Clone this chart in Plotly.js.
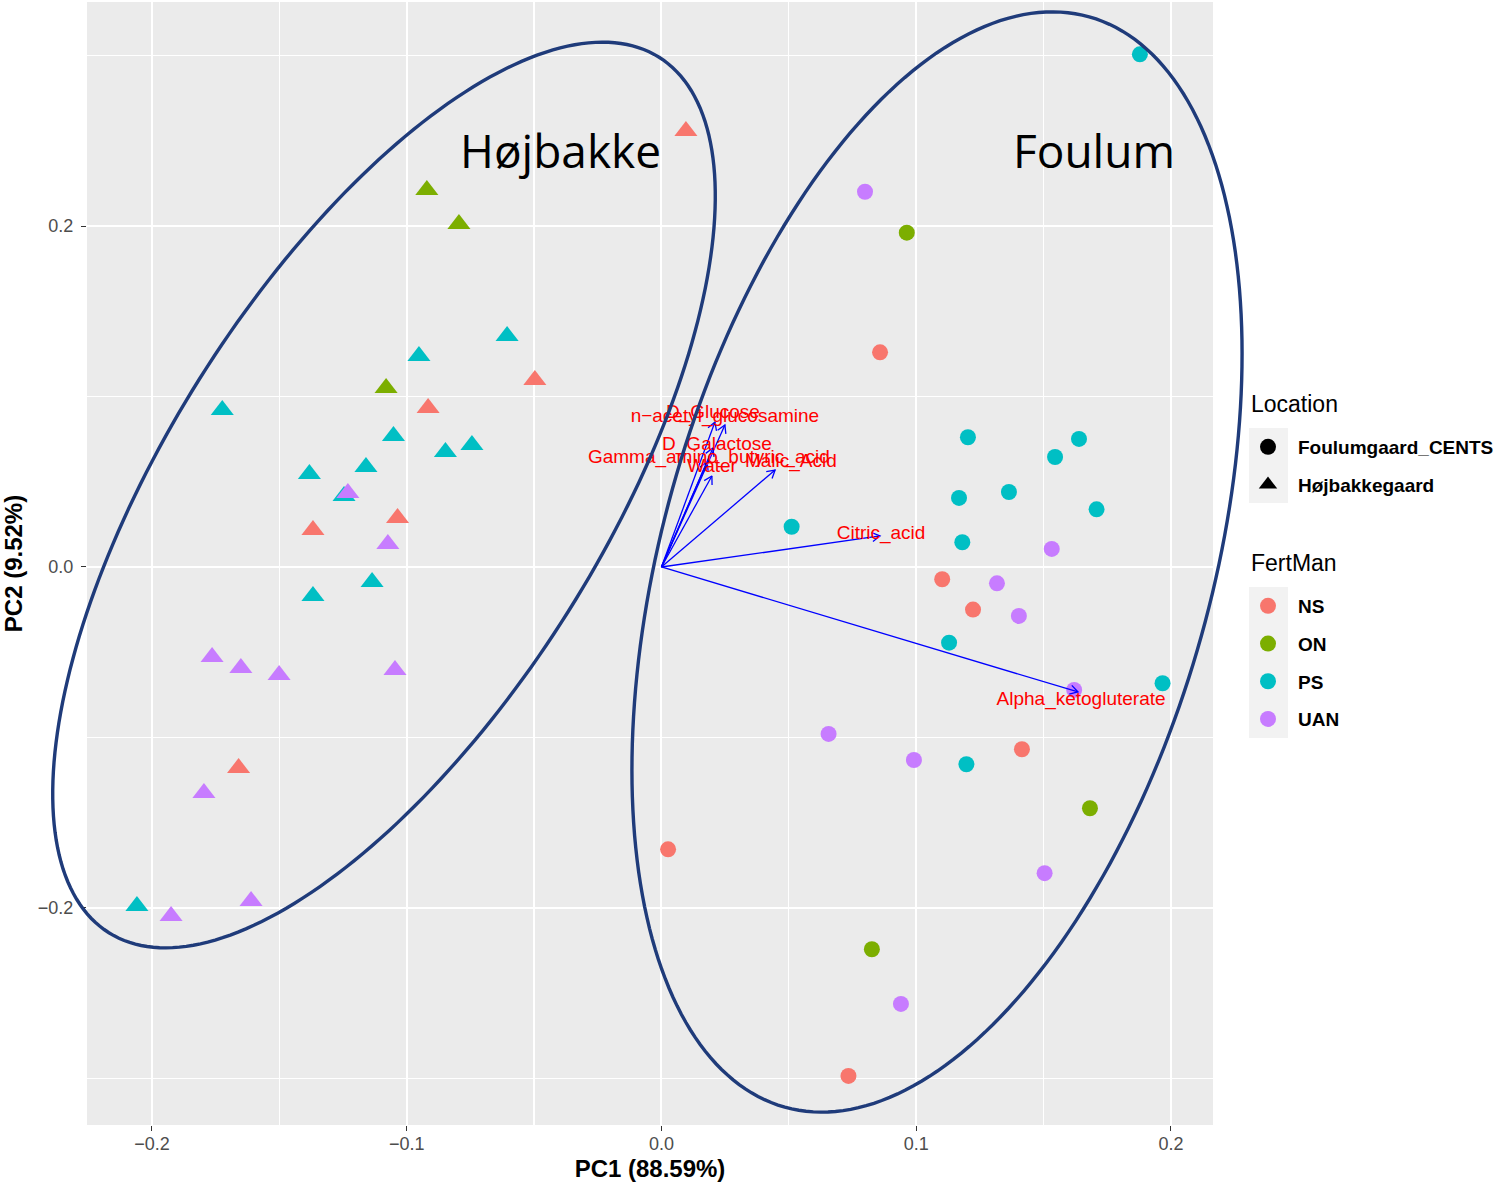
<!DOCTYPE html>
<html>
<head>
<meta charset="utf-8">
<script src="https://cdn.plot.ly/plotly-3.0.1.min.js"></script>
<style>
  html, body { margin: 0; padding: 0; background: #ffffff; }
  #chart { width: 1499px; height: 1182px; }
</style>
</head>
<body>
<div id="chart"></div>
<script>
// ---- PCA scores (PC1, PC2) by site and fertiliser management ----
const fertMan = ['NS', 'ON', 'PS', 'UAN'];
const fertColors = ['#F8766D', '#7CAE00', '#00BFC4', '#C77CFF'];
const locations = ['Foulumgaard_CENTS', 'Højbakkegaard'];

// Foulumgaard_CENTS
const foulumNS_pc1  = [0.0858, 0.1102, 0.1223, 0.1415, 0.0026, 0.0734];
const foulumNS_pc2  = [0.1259, -0.0072, -0.0250, -0.1069, -0.1656, -0.2985];
const foulumON_pc1  = [0.0963, 0.1682, 0.0826];
const foulumON_pc2  = [0.1961, -0.1415, -0.2242];
const foulumPS_pc1  = [0.1878, 0.1203, 0.1639, 0.1545, 0.1364, 0.1168, 0.1708, 0.1181, 0.0511, 0.1129, 0.1967, 0.1197];
const foulumPS_pc2  = [0.3007, 0.0761, 0.0751, 0.0645, 0.0440, 0.0405, 0.0338, 0.0145, 0.0236, -0.0444, -0.0682, -0.1157];
const foulumUAN_pc1 = [0.0799, 0.1532, 0.1317, 0.1403, 0.1620, 0.0656, 0.0991, 0.1504, 0.0940];
const foulumUAN_pc2 = [0.2201, 0.0106, -0.0096, -0.0287, -0.0721, -0.0979, -0.1132, -0.1796, -0.2563];

// Højbakkegaard
const hojNS_pc1  = [0.0096, -0.0497, -0.0916, -0.1368, -0.1036, -0.1660];
const hojNS_pc2  = [0.2557, 0.1097, 0.0933, 0.0217, 0.0287, -0.1179];
const hojON_pc1  = [-0.0921, -0.0795, -0.1081];
const hojON_pc2  = [0.2211, 0.2012, 0.1050];
const hojPS_pc1  = [-0.0606, -0.0952, -0.1724, -0.1052, -0.0848, -0.0744, -0.1382, -0.1160, -0.1246, -0.1368, -0.1136, -0.2059];
const hojPS_pc2  = [0.1355, 0.1238, 0.0921, 0.0768, 0.0674, 0.0716, 0.0545, 0.0586, 0.0416, -0.0170, -0.0088, -0.1988];
const hojUAN_pc1 = [-0.1231, -0.1074, -0.1764, -0.1651, -0.1501, -0.1046, -0.1796, -0.1925, -0.1611];
const hojUAN_pc2 = [0.0434, 0.0135, -0.0528, -0.0592, -0.0633, -0.0604, -0.1326, -0.2047, -0.1959];

// ---- Substrate loadings (arrow tips) and their label positions ----
const loadingNames = ['n\u2212acetyl_glucosamine', 'D_Glucose', 'D_Galactose', 'Gamma_amino_butyric_acid',
                      'Water', 'Malic_Acid', 'Citric_acid', 'Alpha_ketogluterate'];
const loadingPC1 = [0.0249, 0.0210, 0.0202, 0.0179, 0.0198, 0.0446, 0.0858, 0.1635];
const loadingPC2 = [0.0833, 0.0850, 0.0698, 0.0616, 0.0534, 0.0569, 0.0182, -0.0733];
const labelPC1   = [0.0249, 0.0202, 0.0218, 0.0186, 0.0198, 0.0508, 0.0862, 0.1647];
const labelPC2   = [0.0880, 0.0903, 0.0716, 0.0639, 0.0587, 0.0616, 0.0194, -0.0780];

// ---- Axis labels ----
const xTitle = 'PC1 (88.59%)';
const yTitle = 'PC2 (9.52%)';
const siteNames = ['Højbakke', 'Foulum'];
const legendTitles = ['Location', 'FertMan'];

// ---- Figure geometry ----
const FIG_W = 1499, FIG_H = 1182;
const M = { l: 87, r: 286, t: 2, b: 57 };
const PW = FIG_W - M.l - M.r, PH = FIG_H - M.t - M.b;
const X_RANGE = [-0.2255, 0.2165];
const Y_RANGE = [-0.3273, 0.3314];
const px2paperX = px => (px - M.l) / PW;
const py2paperY = py => (FIG_H - M.b - py) / PH;
const KX = PW / (X_RANGE[1] - X_RANGE[0]);   // px per PC1 unit
const KY = PH / (Y_RANGE[1] - Y_RANGE[0]);   // px per PC2 unit

const FONT = 'Liberation Sans, Arial, sans-serif';

const scoreSets = {
  'Foulumgaard_CENTS': {
    NS: [foulumNS_pc1, foulumNS_pc2], ON: [foulumON_pc1, foulumON_pc2],
    PS: [foulumPS_pc1, foulumPS_pc2], UAN: [foulumUAN_pc1, foulumUAN_pc2]
  },
  'Højbakkegaard': {
    NS: [hojNS_pc1, hojNS_pc2], ON: [hojON_pc1, hojON_pc2],
    PS: [hojPS_pc1, hojPS_pc2], UAN: [hojUAN_pc1, hojUAN_pc2]
  }
};
const symbolFor = { 'Foulumgaard_CENTS': 'circle', 'Højbakkegaard': 'triangle-up' };
const sizeFor = { 'Foulumgaard_CENTS': 16, 'Højbakkegaard': 20 };

const traces = [];
locations.forEach(loc => {
  fertMan.forEach((fm, i) => {
    const [xs, ys] = scoreSets[loc][fm];
    traces.push({
      type: 'scatter', mode: 'markers', x: xs, y: ys,
      name: loc + ' ' + fm, showlegend: false, hoverinfo: 'x+y+name',
      marker: { symbol: symbolFor[loc], size: sizeFor[loc], color: fertColors[i], line: { width: 0 } }
    });
  });
});

// loading arrows: shaft from the origin plus an open head (30 deg, 9 px)
const arrowX = [], arrowY = [];
const HEAD_LEN = 9, HEAD_ANG = 30 * Math.PI / 180;
loadingPC1.forEach((lx, i) => {
  const ly = loadingPC2[i];
  arrowX.push(0, lx, null);
  arrowY.push(0, ly, null);
  const dx = lx * KX, dy = ly * KY;
  const len = Math.hypot(dx, dy);
  const ux = -dx / len, uy = -dy / len;
  [-HEAD_ANG, HEAD_ANG].forEach((a, k) => {
    const wx = HEAD_LEN * (ux * Math.cos(a) - uy * Math.sin(a));
    const wy = HEAD_LEN * (ux * Math.sin(a) + uy * Math.cos(a));
    if (k === 0) { arrowX.push(lx + wx / KX, lx); arrowY.push(ly + wy / KY, ly); }
    else { arrowX.push(lx + wx / KX, null); arrowY.push(ly + wy / KY, null); }
  });
});
traces.push({
  type: 'scatter', mode: 'lines', x: arrowX, y: arrowY, connectgaps: false,
  line: { color: '#0000FF', width: 1.3 }, showlegend: false, hoverinfo: 'skip'
});

// loading labels
traces.push({
  type: 'scatter', mode: 'text', x: labelPC1, y: labelPC2, text: loadingNames,
  textposition: 'middle center', showlegend: false, hoverinfo: 'text', cliponaxis: false,
  textfont: { family: FONT, size: 19, color: '#FF0000' }
});

// legend entries: Location (shape) and FertMan (colour)
locations.forEach(loc => {
  traces.push({
    type: 'scatter', mode: 'markers', x: [null], y: [null], name: loc,
    legend: 'legend', legendgroup: 'loc_' + loc, showlegend: true, hoverinfo: 'skip',
    marker: { symbol: symbolFor[loc], size: 16, color: '#000000' }
  });
});
fertMan.forEach((fm, i) => {
  traces.push({
    type: 'scatter', mode: 'markers', x: [null], y: [null], name: fm,
    legend: 'legend2', legendgroup: 'fm_' + fm, showlegend: true, hoverinfo: 'skip',
    marker: { symbol: 'circle', size: 16, color: fertColors[i] }
  });
});

const annotations = [];

// site names
const siteLabelPos = [[560, 150], [1094, 150]];
siteNames.forEach((s, i) => {
  annotations.push({
    text: s, xref: 'paper', yref: 'paper',
    x: px2paperX(siteLabelPos[i][0]), y: py2paperY(siteLabelPos[i][1]),
    xanchor: 'center', yanchor: 'middle', showarrow: false,
    font: { family: 'Open Sans, Noto Sans, sans-serif', size: 46, color: '#000000' }
  });
});

// legend titles
const legendTitlePos = [[1249, 404], [1249, 563]];
legendTitles.forEach((t, i) => {
  annotations.push({
    text: t, xref: 'paper', yref: 'paper',
    x: px2paperX(legendTitlePos[i][0]), y: py2paperY(legendTitlePos[i][1]),
    xanchor: 'left', yanchor: 'middle', showarrow: false,
    font: { family: FONT, size: 23, color: '#000000' }
  });
});

// rotated ellipses outlining the two sites (pixel geometry -> paper coords)
function ellipsePath(cx, cy, a, b, deg) {
  const th = deg * Math.PI / 180;
  let d = '';
  for (let k = 0; k <= 240; k++) {
    const t = k / 240 * 2 * Math.PI;
    const px = cx + a * Math.cos(th) * Math.cos(t) - b * Math.sin(th) * Math.sin(t);
    const py = cy - (a * Math.sin(th) * Math.cos(t) + b * Math.cos(th) * Math.sin(t));
    d += (k ? 'L' : 'M') + px2paperX(px).toFixed(5) + ',' + py2paperY(py).toFixed(5);
  }
  return d + 'Z';
}
const ellipseGeom = [
  { cx: 384, cy: 495, a: 517, b: 218, deg: 57.85 },
  { cx: 937, cy: 562, a: 566, b: 274.5, deg: 74.4 }
];
const shapes = ellipseGeom.map(e => ({
  type: 'path', xref: 'paper', yref: 'paper', layer: 'above',
  path: ellipsePath(e.cx, e.cy, e.a, e.b, e.deg),
  line: { color: '#1F3B7A', width: 3.4 }, fillcolor: 'rgba(0,0,0,0)'
}));

// grey key backgrounds behind legend symbols
const keyBoxes = [[1249, 428, 1288, 503], [1249, 587, 1288, 738]];
keyBoxes.forEach(bx => {
  shapes.push({
    type: 'rect', xref: 'paper', yref: 'paper', layer: 'below',
    x0: px2paperX(bx[0]), x1: px2paperX(bx[2]), y0: py2paperY(bx[3]), y1: py2paperY(bx[1]),
    fillcolor: '#F2F2F2', line: { width: 0 }
  });
});

const axisCommon = {
  showline: false, zeroline: false, showgrid: true,
  gridcolor: '#FFFFFF', gridwidth: 2,
  ticks: 'outside', ticklen: 5, tickwidth: 1, tickcolor: '#333333',
  tickfont: { family: FONT, size: 18, color: '#4D4D4D' },
  tickformat: '.1f', tick0: 0
};

const legendCommon = {
  xanchor: 'left', yanchor: 'top', bgcolor: 'rgba(0,0,0,0)',
  itemwidth: 50, tracegroupgap: 10, traceorder: 'grouped',
  font: { family: FONT, size: 19, color: '#000000', weight: 'bold' },
  itemclick: false, itemdoubleclick: false
};

const layout = {
  width: FIG_W, height: FIG_H,
  margin: Object.assign({ autoexpand: false }, M),
  paper_bgcolor: '#FFFFFF', plot_bgcolor: '#EBEBEB',
  font: { family: FONT, color: '#000000' },
  xaxis: Object.assign({}, axisCommon, {
    range: X_RANGE, dtick: 0.1, ticklabelstandoff: -3,
    minor: { dtick: 0.05, showgrid: true, gridcolor: '#FFFFFF', gridwidth: 1.2, ticks: '' },
    title: { text: xTitle, font: { family: FONT, size: 24, color: '#000000', weight: 'bold' }, standoff: 10 }
  }),
  yaxis: Object.assign({}, axisCommon, {
    range: Y_RANGE, dtick: 0.2, ticklabelstandoff: 4,
    minor: { dtick: 0.1, showgrid: true, gridcolor: '#FFFFFF', gridwidth: 1.2, ticks: '' },
    title: { text: yTitle, font: { family: FONT, size: 24, color: '#000000', weight: 'bold' }, standoff: 12 }
  }),
  legend: Object.assign({}, legendCommon, { x: px2paperX(1238), y: py2paperY(428) }),
  legend2: Object.assign({}, legendCommon, { x: px2paperX(1238), y: py2paperY(587) }),
  annotations: annotations,
  shapes: shapes,
  showlegend: true
};

Plotly.newPlot('chart', traces, layout, { displayModeBar: false, staticPlot: true });
</script>
</body>
</html>
